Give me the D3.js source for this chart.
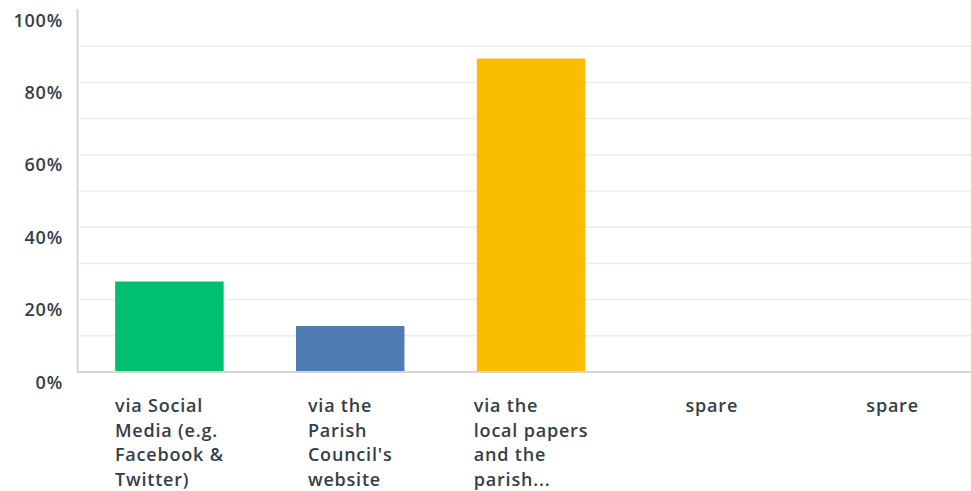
<!DOCTYPE html>
<html>
<head>
<meta charset="utf-8">
<script src="https://cdn.jsdelivr.net/npm/d3@7"></script>
<style>
  html, body { margin: 0; padding: 0; background: #ffffff; }
  svg { display: block; }
  text { font-family: "Open Sans", "Lato", sans-serif; font-weight: 600; fill: #333e48; letter-spacing: 0.8px; }
</style>
</head>
<body>
<svg id="chart" width="971" height="491"></svg>
<script>
const categories = [
  "via Social Media (e.g. Facebook & Twitter)",
  "via the Parish Council's website",
  "via the local papers and the parish...",
  "spare",
  "spare 2"
];
const categoryLines = [
  ["via Social", "Media (e.g.", "Facebook &", "Twitter)"],
  ["via the", "Parish", "Council's", "website"],
  ["via the", "local papers", "and the", "parish..."],
  ["spare"],
  ["spare"]
];
const values = [25.0, 12.7, 86.6, 0, 0];
const barColors = ["#00bf6f", "#507cb6", "#f9be00", "#6bc8cd", "#a05195"];
const yTicks = [0, 20, 40, 60, 80, 100];
const gridValues = [10, 20, 30, 40, 50, 60, 70, 80, 90];

const svg = d3.select("#chart");
const W = 971;

const x = d3.scaleBand().domain(categories).range([79, 983]).paddingInner(0.4).paddingOuter(0.2);
const y = d3.scaleLinear().domain([0, 100]).range([372, 10]);

// gridlines
svg.append("g").selectAll("line").data(gridValues).join("line")
  .attr("x1", 78).attr("x2", W)
  .attr("y1", d => y(d)).attr("y2", d => y(d))
  .attr("stroke", "#ececec").attr("stroke-width", 1.5);

// bars
svg.append("g").selectAll("rect").data(categories).join("rect")
  .attr("x", d => x(d))
  .attr("width", x.bandwidth())
  .attr("y", (d, i) => y(values[i]))
  .attr("height", (d, i) => y(0) - y(values[i]))
  .attr("fill", (d, i) => barColors[i]);

// baseline
svg.append("line").attr("x1", 77).attr("x2", W).attr("y1", y(0)).attr("y2", y(0))
  .attr("stroke", "#d4d4d4").attr("stroke-width", 2);
// y axis line
svg.append("line").attr("x1", 77.5).attr("x2", 77.5).attr("y1", 9).attr("y2", y(0))
  .attr("stroke", "#d4d4d4").attr("stroke-width", 2);

// y tick labels
const yAxis = d3.axisLeft(y).tickValues(yTicks).tickFormat(d => d + "%").tickSize(0).tickPadding(0);
const ya = svg.append("g").attr("transform", "translate(63,0)").call(yAxis);
ya.select(".domain").remove();
ya.selectAll("text")
  .attr("font-size", 18).attr("dy", null)
  .attr("dominant-baseline", "central")
  .attr("y", 9)
  .style("font-family", '"Open Sans", "Lato", sans-serif').style("font-weight", 600).style("fill", "#333e48");

// x labels: left-aligned lines in a block centred under each band
const xg = svg.append("g");
categories.forEach((c, i) => {
  const t = xg.append("text").attr("font-size", 18);
  const lines = categoryLines[i];
  lines.forEach((l, j) => {
    t.append("tspan").attr("y", 412 + j * 24.5).text(l);
  });
  let maxW = 0;
  t.selectAll("tspan").each(function() { maxW = Math.max(maxW, this.getComputedTextLength()); });
  const cx = x(c) + x.bandwidth() / 2;
  t.selectAll("tspan").attr("x", cx - maxW / 2);
});
</script>
</body>
</html>
